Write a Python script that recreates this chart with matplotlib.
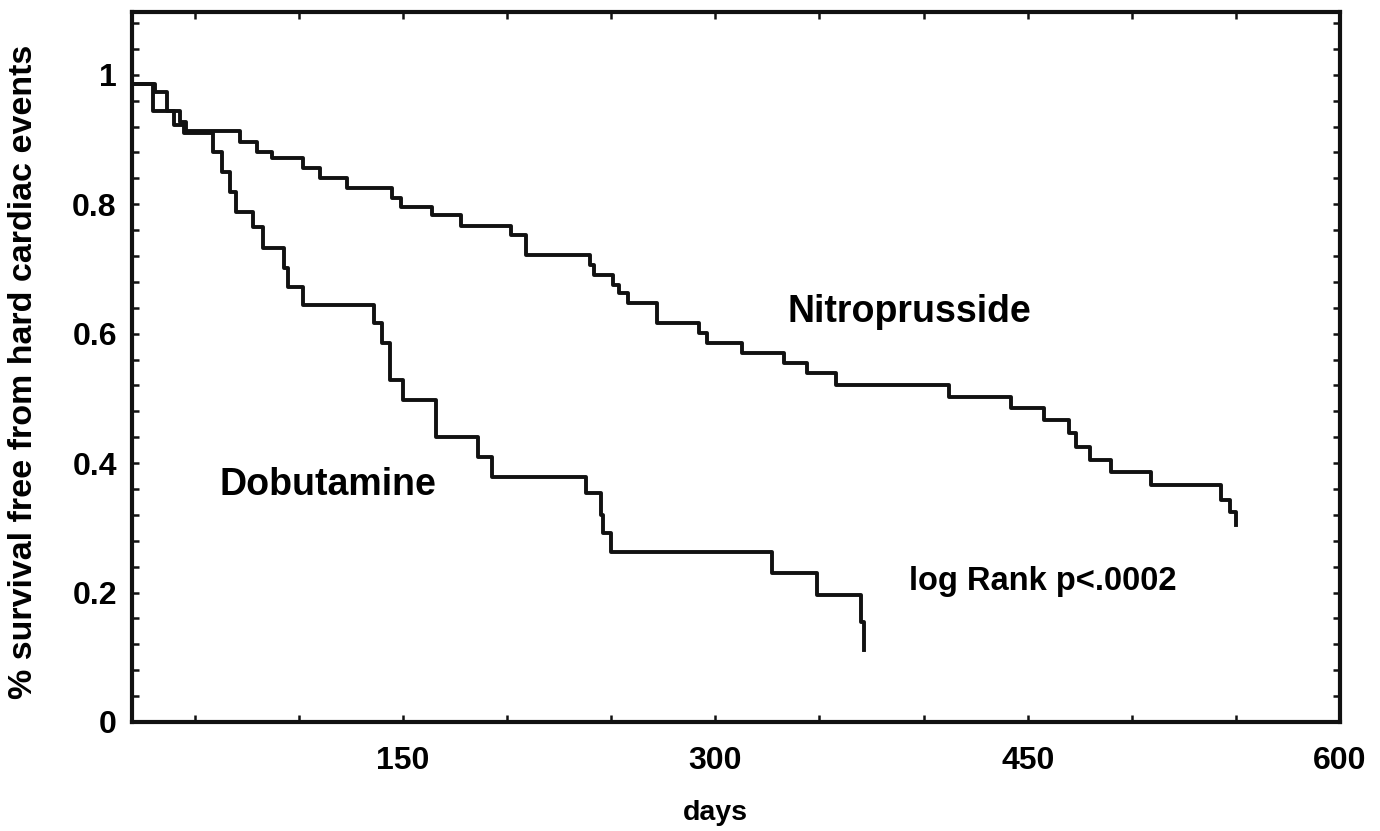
import matplotlib
matplotlib.use('Agg')
from matplotlib import pyplot as plt
from matplotlib.ticker import MultipleLocator, FuncFormatter

#%% Data (days, survival fraction)
nitro_days = [22, 31, 37, 43, 46, 72, 80, 87, 102, 110, 123, 145, 149, 164, 178,
              202, 209, 240, 242, 251, 254, 258, 272, 292, 296, 313, 333, 344,
              358, 412, 442, 458, 470, 473, 480, 490, 509, 543, 547, 550]
nitro_surv = [0.986, 0.974, 0.944, 0.927, 0.913, 0.896, 0.881, 0.872, 0.856, 0.841,
              0.825, 0.810, 0.796, 0.784, 0.767, 0.753, 0.722, 0.706, 0.691, 0.675,
              0.663, 0.648, 0.617, 0.601, 0.586, 0.570, 0.555, 0.539, 0.521, 0.502,
              0.485, 0.467, 0.447, 0.425, 0.405, 0.386, 0.366, 0.343, 0.325, 0.305]

dobu_days = [22, 30, 40, 45, 59, 63, 67, 70, 78, 83, 93, 95, 102, 136, 140, 144,
             150, 166, 186, 193, 238, 245, 246, 250, 327, 349, 370, 371.5]
dobu_surv = [0.986, 0.944, 0.922, 0.910, 0.881, 0.850, 0.819, 0.788, 0.765, 0.733,
             0.702, 0.672, 0.645, 0.617, 0.586, 0.529, 0.498, 0.440, 0.410, 0.379,
             0.354, 0.320, 0.292, 0.263, 0.230, 0.196, 0.155, 0.111]

x_major = 150
x_minor = 50
y_major = 0.2
y_minor = 0.04

#%% Plot
plt.rcParams['font.family'] = ['Liberation Sans', 'DejaVu Sans']
plt.rcParams['font.weight'] = 'bold'

fig = plt.figure(figsize=(13.8, 8.31), dpi=100)
ax = fig.add_axes([0.0957, 0.1312, 0.8754, 0.8544])

ax.step(nitro_days, nitro_surv, where='post', color='#111111', lw=2.8)
ax.step(dobu_days, dobu_surv, where='post', color='#111111', lw=2.8)

ax.set_xlim(20, 600)
ax.set_ylim(0, 1.097)

ax.xaxis.set_major_locator(MultipleLocator(x_major))
ax.xaxis.set_minor_locator(MultipleLocator(x_minor))
ax.yaxis.set_major_locator(MultipleLocator(y_major))
ax.yaxis.set_minor_locator(MultipleLocator(y_minor))
ax.yaxis.set_major_formatter(FuncFormatter(lambda v, p: '%g' % round(v, 2)))

ax.tick_params(which='both', direction='in', top=True, right=True,
               length=5, width=1.8, color='#111111')
ax.tick_params(axis='x', which='major', labelsize=23, pad=17)
ax.tick_params(axis='y', which='major', labelsize=23, pad=11)

for s in ax.spines.values():
    s.set_linewidth(3)
    s.set_color('#111111')

# label positions: x label top edge, y label right edge
ax.set_xlabel('days', fontsize=20.5, fontweight='bold')
ax.xaxis.set_label_coords(0.483, -0.110)
ax.set_ylabel('% survival free from hard cardiac events', fontsize=24.5, fontweight='bold')
ax.yaxis.set_label_coords(-0.077, 0.493)

ax.text(334.6, 0.618, 'Nitroprusside', fontsize=27, fontweight='bold', ha='left', va='baseline')
ax.text(62, 0.351, 'Dobutamine', fontsize=27, fontweight='bold', ha='left', va='baseline')
ax.text(392.8, 0.204, 'log Rank p<.0002', fontsize=23.5, fontweight='bold', ha='left', va='baseline')

fig.savefig('out.png', dpi=100, facecolor='white')
